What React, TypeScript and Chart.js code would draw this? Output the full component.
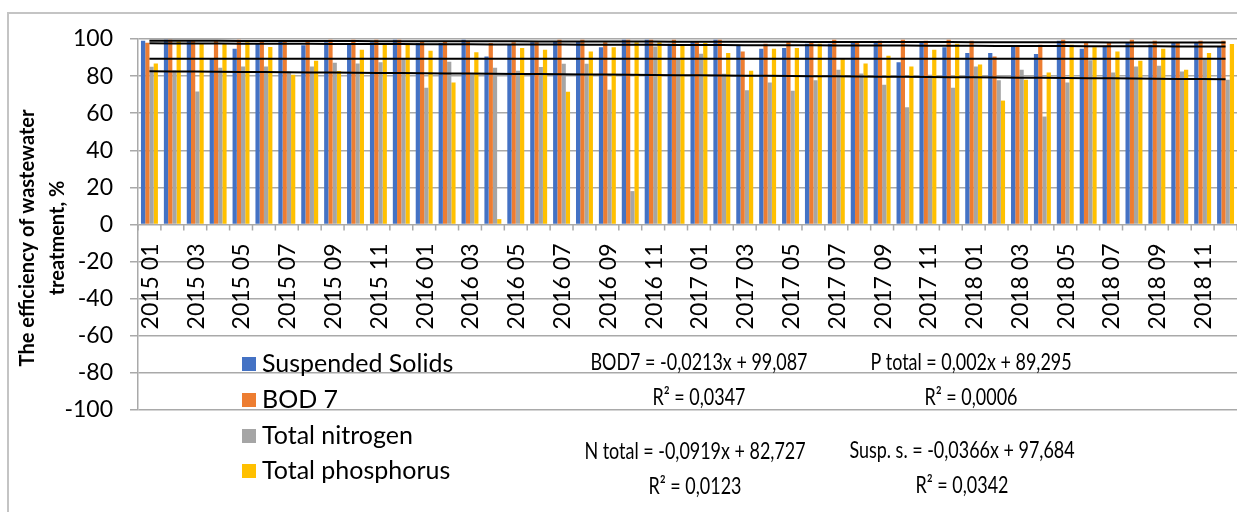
import React, { useEffect, useRef } from "react";
import { Chart, registerables } from "chart.js";

Chart.register(...registerables);

const months = [
  "2015 01", "2015 02", "2015 03", "2015 04", "2015 05", "2015 06", "2015 07", "2015 08", "2015 09", "2015 10", "2015 11", "2015 12",
  "2016 01", "2016 02", "2016 03", "2016 04", "2016 05", "2016 06", "2016 07", "2016 08", "2016 09", "2016 10", "2016 11", "2016 12",
  "2017 01", "2017 02", "2017 03", "2017 04", "2017 05", "2017 06", "2017 07", "2017 08", "2017 09", "2017 10", "2017 11", "2017 12",
  "2018 01", "2018 02", "2018 03", "2018 04", "2018 05", "2018 06", "2018 07", "2018 08", "2018 09", "2018 10", "2018 11", "2018 12",
];

const suspendedSolids = [
  99.1, 99.6, 99.0, 89.7, 94.8, 97.5, 98.7, 96.6, 98.2, 97.8, 98.2, 99.6,
  97.8, 97.8, 99.6, 90.6, 97.3, 98.2, 98.4, 98.7, 95.5, 99.6, 99.6, 97.5,
  98.4, 99.6, 96.6, 94.8, 95.1, 97.5, 97.5, 98.4, 98.4, 87.4, 98.4, 95.5,
  92.4, 92.4, 96.4, 91.9, 99.1, 94.8, 96.4, 98.4, 96.9, 98.2, 98.4, 96.0,
];
const bod7 = [
  98.0, 99.6, 99.0, 99.0, 99.6, 98.4, 98.7, 98.7, 99.6, 99.6, 99.6, 99.6,
  98.4, 98.4, 98.7, 97.8, 98.2, 98.2, 99.6, 99.6, 98.2, 99.6, 99.6, 99.6,
  98.4, 99.6, 93.2, 97.5, 98.4, 98.4, 99.6, 98.4, 99.1, 99.6, 99.1, 99.6,
  99.1, 90.5, 96.4, 96.9, 99.6, 98.4, 98.2, 99.6, 99.1, 98.2, 99.1, 99.1,
];
const totalNitrogen = [
  85.0, 83.0, 71.7, 84.5, 85.2, 85.2, 82.3, 85.2, 87.2, 86.8, 87.4, 89.5,
  73.7, 87.7, 81.0, 84.5, 82.9, 84.9, 86.7, 86.7, 72.6, 18.0, 96.0, 89.7,
  92.0, 81.3, 72.4, 76.6, 72.1, 77.7, 83.4, 81.4, 75.3, 63.2, 80.7, 73.7,
  85.2, 77.7, 83.4, 58.2, 76.6, 88.5, 82.0, 85.2, 85.6, 82.5, 89.4, 78.0,
];
const totalPhosphorus = [
  86.8, 98.7, 97.3, 97.3, 98.2, 95.7, 80.7, 88.3, 82.7, 94.2, 97.8, 97.8,
  93.7, 76.6, 92.8, 2.9, 95.1, 94.2, 71.5, 93.2, 95.5, 98.2, 98.2, 96.9,
  97.8, 92.4, 82.9, 94.8, 95.1, 97.5, 89.2, 86.8, 91.0, 85.2, 94.2, 97.5,
  86.3, 66.8, 78.0, 82.0, 96.9, 95.5, 93.2, 88.3, 94.8, 83.4, 92.4, 97.3,
];

const seriesNames = ["Suspended Solids", "BOD 7", "Total nitrogen", "Total phosphorus"];
const seriesColors = ["#4472C4", "#ED7D31", "#A5A5A5", "#FFC000"];

// linear trendlines as printed on the chart (x = month number 1..48)
const trendSlopes = [-0.0366, -0.0213, -0.0919, 0.002];
const trendIntercepts = [97.684, 99.087, 82.727, 89.295];
const trendEquations = [
  "Susp. s. = -0,0366x + 97,684",
  "BOD7 = -0,0213x + 99,087",
  "N total = -0,0919x + 82,727",
  "P total = 0,002x + 89,295",
];
const trendR2 = ["R² = 0,0342", "R² = 0,0347", "R² = 0,0123", "R² = 0,0006"];

const yTitle = ["The efficiency of wastewater", "treatment, %"];
const yMin = -100;
const yMax = 100;
const yStep = 20;

const GRID = "#a9a9a9";
const FONT = "Lato";
const eqPos = [
  { x: 962, y: 451 },
  { x: 699, y: 363 },
  { x: 695, y: 452 },
  { x: 971, y: 363 },
];
const legendY = [364, 400, 436, 471];

const overlay = {
  id: "overlay",
  beforeDraw(chart: any) {
    const ctx = chart.ctx;
    ctx.save();
    ctx.strokeStyle = "#c4c4c4";
    ctx.lineWidth = 2;
    ctx.beginPath();
    ctx.moveTo(8, 600);
    ctx.lineTo(8, 13);
    ctx.lineTo(1300, 13);
    ctx.stroke();
    ctx.restore();
  },
  afterDraw(chart: any) {
    const ctx = chart.ctx;
    const x = chart.scales.x;
    const y = chart.scales.y;
    const y0 = y.getPixelForValue(0);
    const w = x.width / months.length;
    ctx.save();
    // category tick marks below the zero line
    ctx.strokeStyle = GRID;
    ctx.lineWidth = 1.5;
    for (let i = 0; i <= months.length; i++) {
      const px = x.left + i * w;
      ctx.beginPath();
      ctx.moveTo(px, y0);
      ctx.lineTo(px, y0 + 6);
      ctx.stroke();
    }
    // category labels, every second month, rotated
    ctx.fillStyle = "#000";
    ctx.font = `23px ${FONT}`;
    ctx.textAlign = "right";
    ctx.textBaseline = "middle";
    months.forEach((m, i) => {
      if (i % 2 !== 0) return;
      const px = x.getPixelForValue(i);
      ctx.save();
      ctx.translate(px + 1, y0 + 19);
      ctx.rotate(-Math.PI / 2);
      ctx.fillText(m, 0, 0);
      ctx.restore();
    });
    // y title
    ctx.font = `bold 20px ${FONT}`;
    ctx.textAlign = "center";
    yTitle.forEach((t, i) => {
      ctx.save();
      ctx.translate(28 + i * 30, 238);
      ctx.rotate(-Math.PI / 2);
      ctx.fillText(t, 0, 0);
      ctx.restore();
    });
    // legend
    ctx.font = `25px ${FONT}`;
    ctx.textAlign = "left";
    seriesNames.forEach((n, i) => {
      ctx.fillStyle = seriesColors[i];
      ctx.fillRect(242, legendY[i] - 7, 14, 14);
      ctx.fillStyle = "#000";
      ctx.fillText(n, 262, legendY[i]);
    });
    // trendline equations (condensed, Calibri-like proportions)
    ctx.font = `23px ${FONT}`;
    ctx.textAlign = "center";
    const drawCondensed = (t: string, px: number, py: number) => {
      ctx.save();
      ctx.translate(px, py);
      ctx.scale(0.78, 1);
      ctx.fillText(t, 0, 0);
      ctx.restore();
    };
    trendEquations.forEach((e, i) => {
      drawCondensed(e, eqPos[i].x, eqPos[i].y);
      drawCondensed(trendR2[i], eqPos[i].x, eqPos[i].y + 35);
    });
    ctx.restore();
  },
};

export default function App() {
  const ref = useRef<HTMLCanvasElement | null>(null);
  useEffect(() => {
    if (!ref.current) return;
    const series = [suspendedSolids, bod7, totalNitrogen, totalPhosphorus];
    const barSets = series.map((d, i) => ({
      type: "bar" as const,
      label: seriesNames[i],
      data: d,
      backgroundColor: seriesColors[i],
      categoryPercentage: 0.74,
      barPercentage: 1,
      order: 2,
    }));
    const lineSets = trendSlopes.map((s, i) => ({
      type: "line" as const,
      label: trendEquations[i],
      data: months.map((_, k) => s * (k + 1) + trendIntercepts[i]),
      borderColor: "#000",
      borderWidth: 2,
      pointRadius: 0,
      fill: false,
      order: 1,
    }));
    const chart = new Chart(ref.current, {
      type: "bar",
      data: { labels: months, datasets: [...barSets, ...lineSets] as any },
      options: {
        responsive: false,
        animation: false,
        devicePixelRatio: 1,
        layout: { padding: { left: 0, right: 0, top: 39, bottom: 102 } },
        plugins: { legend: { display: false }, tooltip: { enabled: false }, title: { display: false } },
        scales: {
          x: { display: false, offset: true },
          y: {
            min: yMin,
            max: yMax,
            ticks: { stepSize: yStep, font: { family: FONT, size: 23 }, color: "#000", padding: 17 },
            grid: { color: GRID, lineWidth: 1.5, tickLength: 8, drawTicks: true },
            border: { color: GRID, width: 1.5 },
            afterFit: (s: any) => {
              s.width = 138;
            },
          },
        },
      },
      plugins: [overlay],
    });
    return () => chart.destroy();
  }, []);
  return (
    <div style={{ position: "fixed", left: 0, top: 0, width: 1237, height: 512, background: "#fff" }}>
      <canvas ref={ref} width={1237} height={512} style={{ display: "block" }} />
    </div>
  );
}
